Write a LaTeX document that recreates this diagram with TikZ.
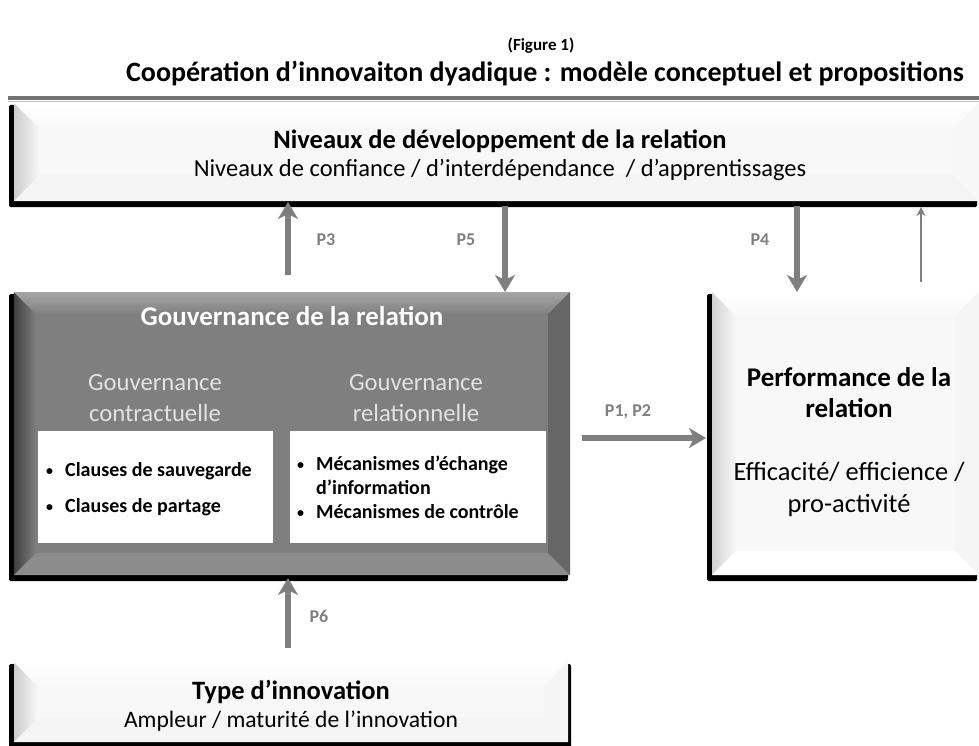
\documentclass[tikz,border=0pt]{standalone}
\usepackage{fontspec}
\setmainfont{Carlito}
\usetikzlibrary{arrows.meta,calc}
\definecolor{arrgray}{HTML}{7F7F7F}
\definecolor{govface}{HTML}{7F7F7F}
\definecolor{lightface}{HTML}{F8F8F8}
\definecolor{subgray}{HTML}{E2E2E2}
\tikzset{
  boxnode/.style={inner sep=0pt,outer sep=0pt,anchor=north west},
  bigarrow/.style={draw=arrgray,line width=6pt,-{Stealth[length=17pt,width=20pt,inset=5pt]}},
  thinarrow/.style={draw=arrgray,line width=1.8pt,-{Stealth[length=9pt,width=9pt]}},
  plabel/.style={text=arrgray,font=\fontsize{18}{20}\selectfont\bfseries},
  bullettext/.style={font=\fontsize{20}{24}\selectfont\bfseries,align=left,anchor=west,inner sep=0pt},
}
\newcommand\bul{\makebox[19pt][l]{\raisebox{1pt}{\fontsize{14}{14}\selectfont\textbullet}}}
\newcommand\boxshadow[1]{%
  \fill[black,rounded corners=1.5pt] ([xshift=-5pt,yshift=-2pt]#1.north west) rectangle ([xshift=-2pt,yshift=-6pt]#1.south east);}
% #1 node, #2 bevel, #3 face, #4 left colour, #5 top colour, #6 bottom colour, #7 right colour
\newcommand\bevelbox[7]{%
  \fill[#3] (#1.north west) rectangle (#1.south east);
  \shade[left color=#4,right color=#3] (#1.north west) -- ([xshift=#2,yshift=-#2]#1.north west) -- ([xshift=#2,yshift=#2]#1.south west) -- (#1.south west) -- cycle;
  \shade[top color=#5,bottom color=#3] (#1.north west) -- (#1.north east) -- ([xshift=-#2,yshift=-#2]#1.north east) -- ([xshift=#2,yshift=-#2]#1.north west) -- cycle;
  \fill[#6] (#1.south west) -- ([xshift=#2,yshift=#2]#1.south west) -- ([xshift=-#2,yshift=#2]#1.south east) -- (#1.south east) -- cycle;
  \fill[#7] (#1.north east) -- ([xshift=-#2,yshift=-#2]#1.north east) -- ([xshift=-#2,yshift=#2]#1.south east) -- (#1.south east) -- cycle;}
\begin{document}
\begin{tikzpicture}[x=1pt,y=-1pt]
\useasboundingbox (0,0) rectangle (979,746);
\fill[white] (0,0) rectangle (979,746);
% titles
\node[font=\fontsize{17}{19}\selectfont\bfseries] (fig) at (541,46) {(Figure 1)};
\node[font=\fontsize{28}{30}\selectfont\bfseries] (title) at (545,74) {Coopération d’innovaiton dyadique : modèle conceptuel et propositions};
\draw[line width=3.5pt,draw=black!55] (8,98) -- (979,98);
\draw[line width=1pt,draw=black!25] (8,101.5) -- (979,101.5);
% box nodes
\node[boxnode,minimum width=965pt,minimum height=98pt] (top) at (14,103) {};
\node[boxnode,minimum width=556pt,minimum height=283pt] (gov) at (14,292) {};
\node[boxnode,minimum width=267pt,minimum height=283pt] (perf) at (712,292) {};
\node[boxnode,minimum width=554pt,minimum height=80pt] (type) at (14,662) {};
% shadows
\boxshadow{top}
\boxshadow{gov}
\boxshadow{perf}
\fill[black,rounded corners=1.5pt] ([xshift=-5pt,yshift=-2pt]type.north west) rectangle ([xshift=3pt,yshift=-6pt]type.south east);
% faces
\bevelbox{top}{26pt}{lightface}{black!20}{white}{black!4}{black!3}
\bevelbox{gov}{22pt}{govface}{black!75}{black!35}{black!45}{black!60}
\bevelbox{perf}{24pt}{lightface}{black!18}{white}{white}{black!4}
\bevelbox{type}{24pt}{lightface}{black!20}{white}{black!4}{black!4}
% texts of top box
\node[font=\fontsize{26.5}{28}\selectfont\bfseries] (topt) at (500,141) {Niveaux de développement de la relation};
\node[font=\fontsize{24.5}{26}\selectfont] (tops) at (500,170) {Niveaux de confiance / d’interdépendance \ / d’apprentissages};
% governance
\node[font=\fontsize{27}{30}\selectfont\bfseries,text=white] (govt) at (292,316) {Gouvernance de la relation};
\node[font=\fontsize{24.7}{31}\selectfont,text=subgray,align=center] (gc) at (155,398) {Gouvernance\\contractuelle};
\node[font=\fontsize{24.7}{31}\selectfont,text=subgray,align=center] (gr) at (416,398) {Gouvernance\\relationnelle};
\node[boxnode,fill=white,minimum width=235pt,minimum height=112pt] (gl) at (38,431) {};
\node[boxnode,fill=white,minimum width=256pt,minimum height=112pt] (grb) at (290,431) {};
\node[bullettext] (b1) at (46,471) {\bul Clauses de sauvegarde};
\node[bullettext] (b2) at (46,507) {\bul Clauses de partage};
\node[bullettext,font=\fontsize{20}{24}\selectfont\bfseries] (b3) at (297,487) {\bul Mécanismes d’échange\\\hspace*{19pt}d’information\\\bul Mécanismes de contrôle};
% performance
\node[font=\fontsize{27}{31}\selectfont\bfseries,align=center] (perft) at (849,393) {Performance de la\\relation};
\node[font=\fontsize{26.4}{32}\selectfont,align=center] (perfs) at (849,489) {Efficacité/ efficience /\\pro-activité};
% type
\node[font=\fontsize{26.5}{28}\selectfont\bfseries] (typet) at (291,692) {Type d’innovation};
\node[font=\fontsize{23.6}{26}\selectfont] (types) at (291,721) {Ampleur / maturité de l’innovation};
% connector columns
\coordinate (c3) at (288,0);
\coordinate (c5) at (505,0);
\coordinate (c4) at (797,0);
\coordinate (cr) at (921,0);
\coordinate (c12) at (0,438);
% connectors
\draw[bigarrow,shorten <=17pt,shorten >=1pt] (gov.north -| c3) -- (top.south -| c3);
\draw[bigarrow,shorten <=5pt] (top.south -| c5) -- (gov.north -| c5);
\draw[bigarrow,shorten <=5pt] (top.south -| c4) -- (perf.north -| c4);
\draw[thinarrow,shorten <=10pt,shorten >=6pt] (perf.north -| cr) -- (top.south -| cr);
\draw[bigarrow,shorten <=12pt,shorten >=6pt] (gov.east |- c12) -- (perf.west |- c12);
\draw[bigarrow,shorten <=14pt,shorten >=3pt] (type.north -| c3) -- (gov.south -| c3);
% labels
\node[plabel] (p3) at (326,240) {P3};
\node[plabel] (p5) at (466,240) {P5};
\node[plabel] (p4) at (760,240) {P4};
\node[plabel] (p12) at (628,412) {P1, P2};
\node[plabel] (p6) at (319,616) {P6};
\end{tikzpicture}
\end{document}
